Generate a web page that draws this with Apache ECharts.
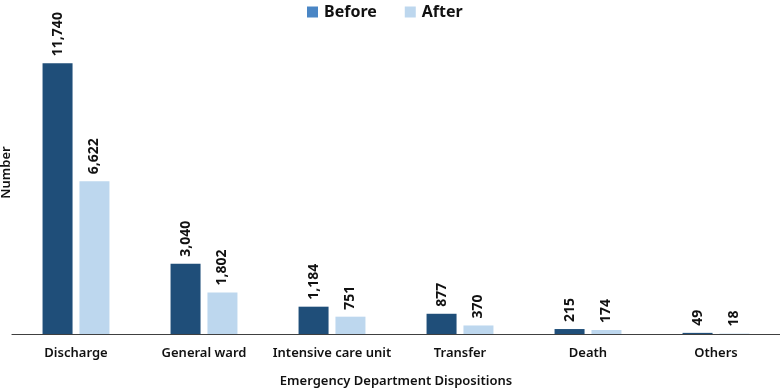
<!DOCTYPE html>
<html><head><meta charset="utf-8">
<script src="https://cdn.jsdelivr.net/npm/echarts@6/dist/echarts.min.js"></script>
<style>html,body{margin:0;padding:0;background:#fff}#c{width:780px;height:390px}</style>
</head><body><div id="c"></div>
<script>
const categories = ['Discharge','General ward','Intensive care unit','Transfer','Death','Others'];
const before = [11740, 3040, 1184, 877, 215, 49];
const after = [6622, 1802, 751, 370, 174, 18];
const FONT = '"Noto Sans", "Open Sans", sans-serif';
const chart = echarts.init(document.getElementById('c'));
const lbl = {show:true, position:'top', rotate:90, align:'left', verticalAlign:'middle', distance:7,
  fontFamily:FONT, fontWeight:'bold', fontSize:14, color:'#111',
  formatter: p => p.value.toLocaleString('en-US')};
chart.setOption({
  animation:false,
  textStyle:{fontFamily:FONT},
  legend:{top:-1, left:302, itemWidth:11, itemHeight:11, itemGap:28,
    textStyle:{fontFamily:FONT, fontWeight:'bold', fontSize:16, color:'#111', padding:[0,0,0,1]},
    data:[{name:'Before', icon:'rect', itemStyle:{color:'#4a86c5'}},{name:'After', icon:'rect', itemStyle:{color:'#bdd7ee'}}]},
  grid:{left:12, right:0, top:11, bottom:56, containLabel:false, outerBoundsMode:'none'},
  xAxis:{type:'category', data:categories,
    axisLine:{lineStyle:{color:'#404040', width:1.2}}, axisTick:{show:false},
    axisLabel:{fontFamily:FONT, fontWeight:600, fontSize:13, color:'#111', margin:13, interval:0},
    name:'Emergency Department Dispositions', nameLocation:'middle', nameGap:41,
    nameTextStyle:{fontFamily:FONT, fontWeight:600, fontSize:13, color:'#111'}},
  yAxis:{type:'value', min:0, max:14000, axisLabel:{show:false}, splitLine:{show:false},
    axisLine:{show:false}, axisTick:{show:false},
    name:'Number', nameLocation:'middle', nameGap:-1, nameRotate:90,
    nameTextStyle:{fontFamily:FONT, fontWeight:600, fontSize:13, color:'#111', verticalAlign:'bottom'}},
  series:[
    {name:'Before', type:'bar', data:before, barWidth:30, barGap:'23%', itemStyle:{color:'#1f4e79'}, label:lbl},
    {name:'After', type:'bar', data:after, barWidth:30, itemStyle:{color:'#bdd7ee'}, label:lbl}
  ]
});
</script></body></html>
